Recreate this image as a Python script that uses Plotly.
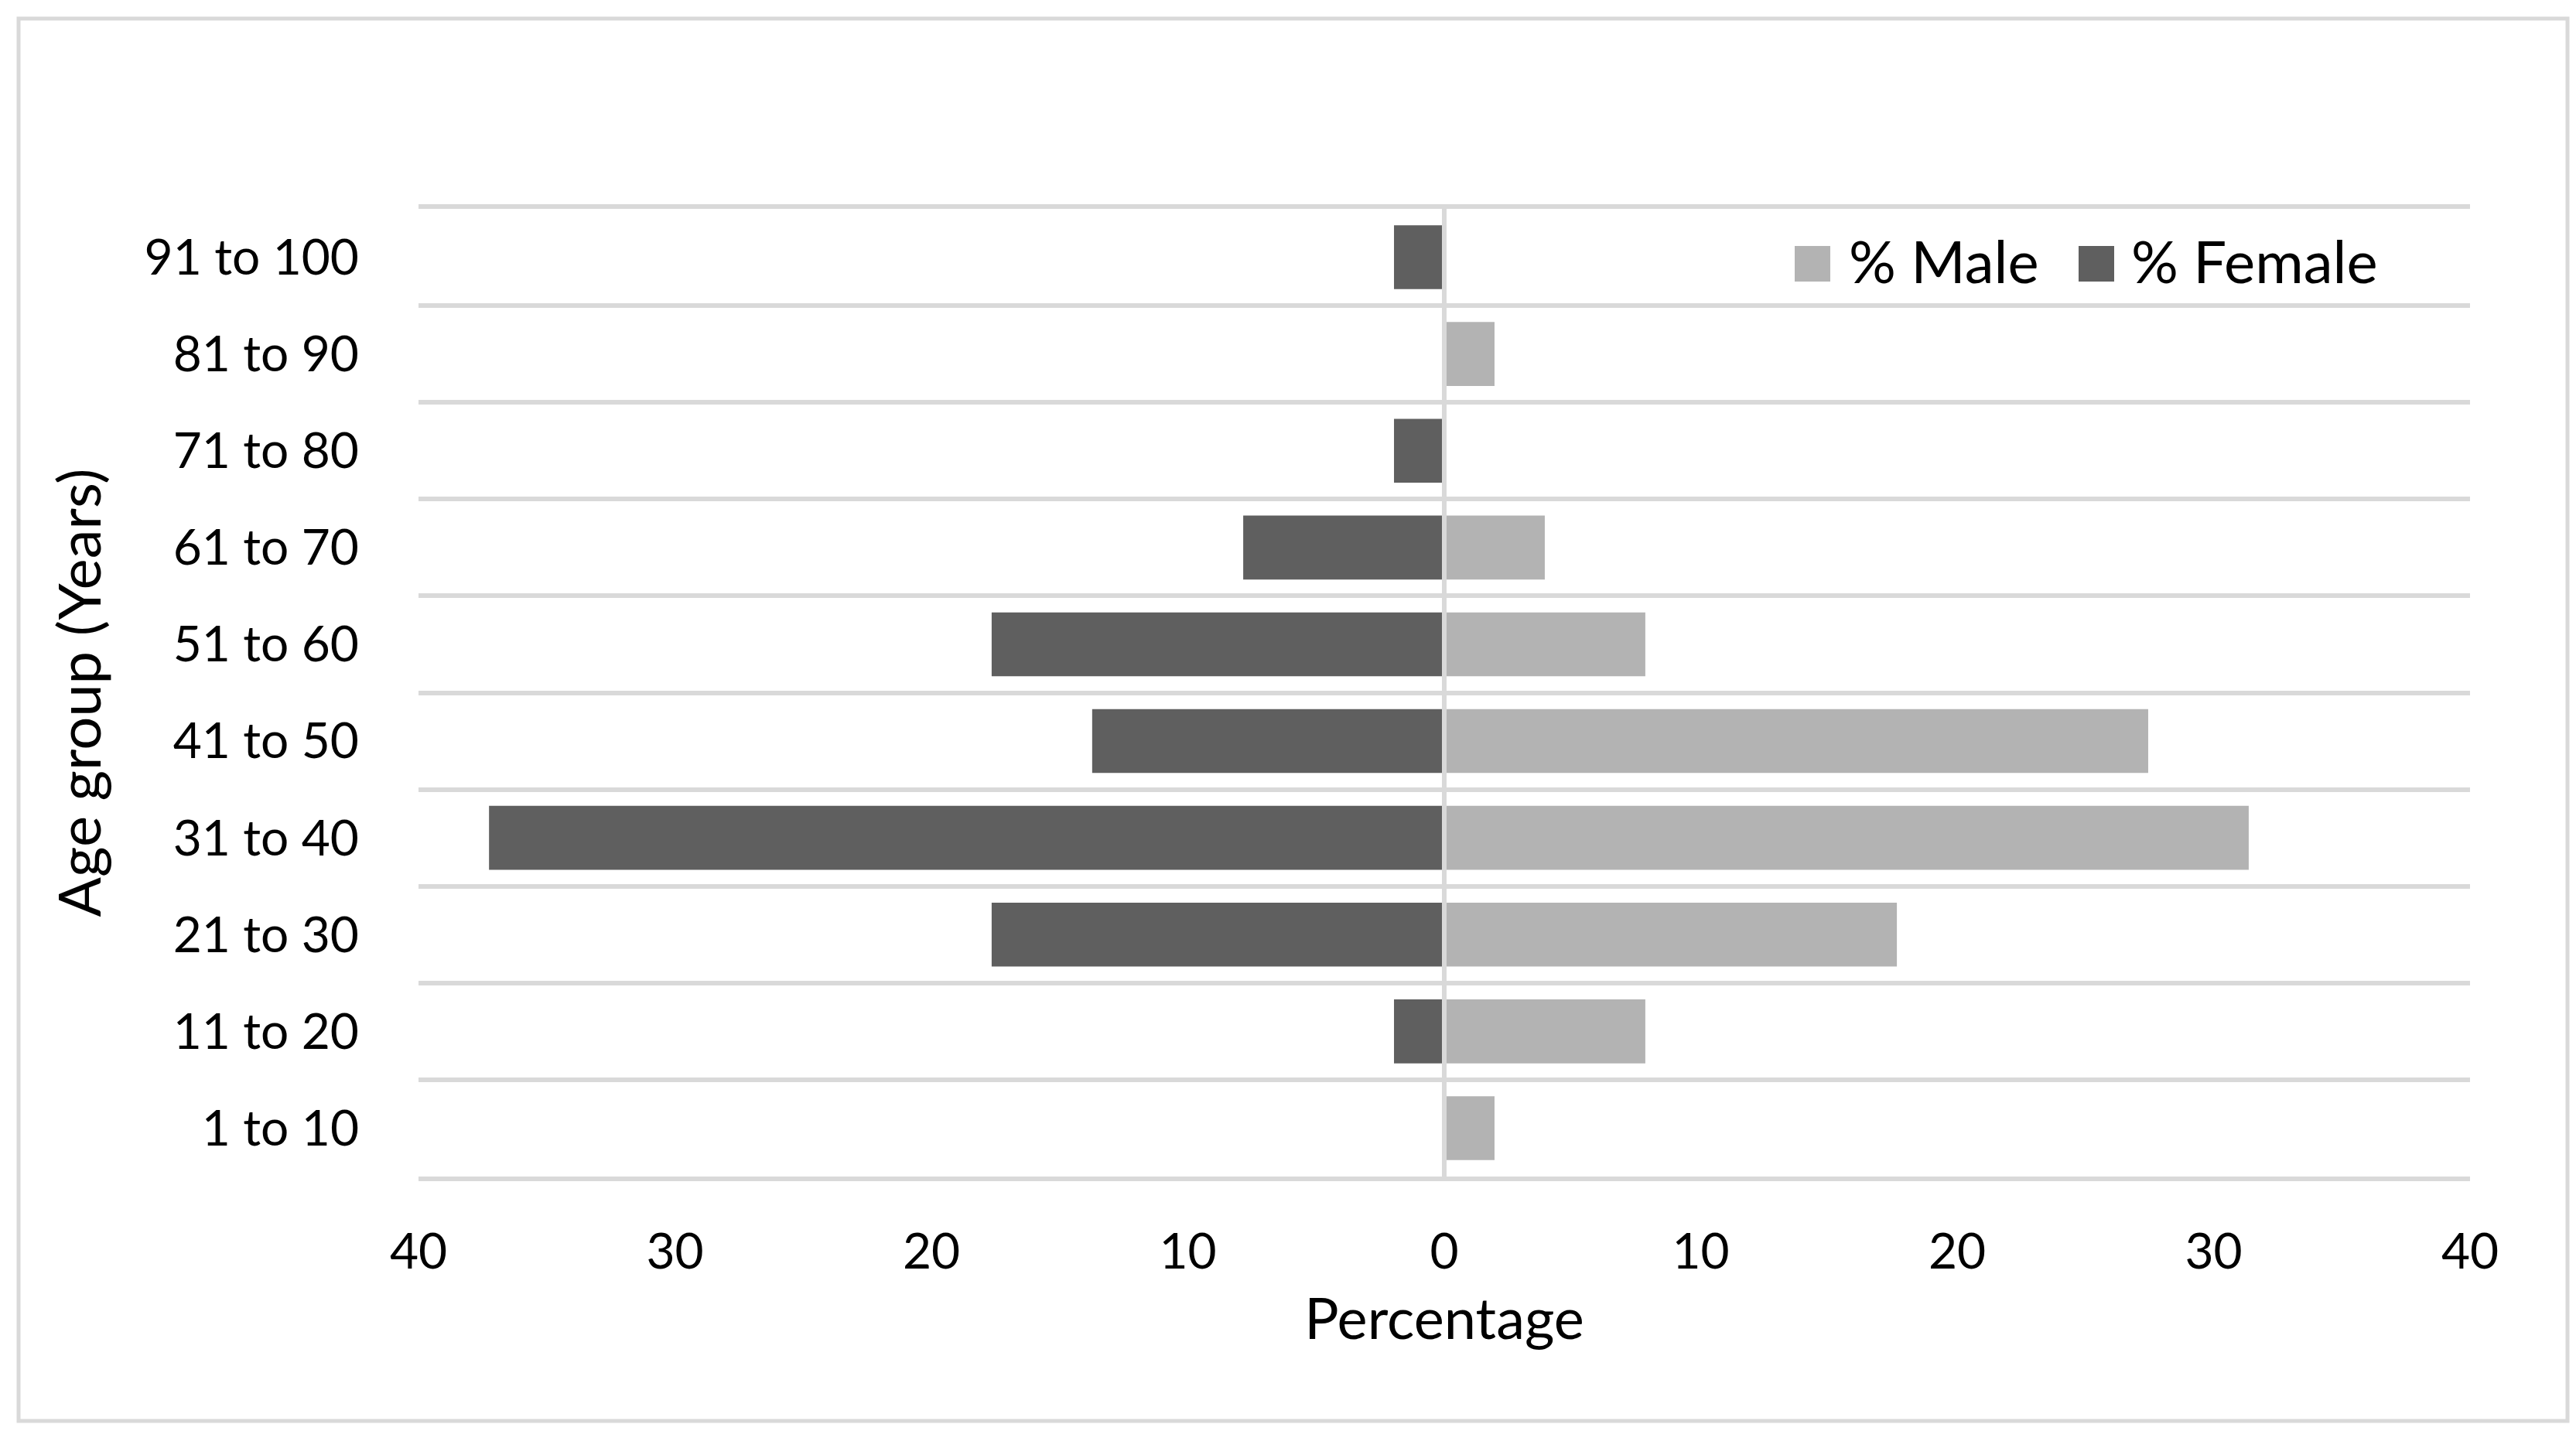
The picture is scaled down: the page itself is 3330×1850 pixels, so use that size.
import plotly.graph_objects as go

age_groups = ["1 to 10", "11 to 20", "21 to 30", "31 to 40", "41 to 50",
              "51 to 60", "61 to 70", "71 to 80", "81 to 90", "91 to 100"]
male_pct = [1.96, 7.84, 17.65, 31.37, 27.45, 7.84, 3.92, 0.0, 1.96, 0.0]
female_pct = [0.0, 1.96, 17.65, 37.25, 13.73, 17.65, 7.84, 1.96, 0.0, 1.96]
x_tick_vals = [-40, -30, -20, -10, 0, 10, 20, 30, 40]
x_tick_text = ["40", "30", "20", "10", "0", "10", "20", "30", "40"]
series_names = ["% Male", "% Female"]
series_colors = ["#b3b3b3", "#5f5f5f"]

FONT = "Lato"
GRID = "#d9d9d9"

W, H = 3330, 1850
ML, MR, MT, MB = 533, 145, 262, 337
PW, PH = W - ML - MR, H - MT - MB


def px_x(p):
    return (p - ML) / PW


def px_y(p):
    return 1 - (p - MT) / PH


fig = go.Figure()
fig.add_trace(go.Bar(
    y=age_groups, x=male_pct, orientation="h", name=series_names[0],
    marker=dict(color=series_colors[0], line=dict(width=0)), showlegend=False,
))
fig.add_trace(go.Bar(
    y=age_groups, x=[-v for v in female_pct], orientation="h", name=series_names[1],
    marker=dict(color=series_colors[1], line=dict(width=0)), showlegend=False,
))

# zero line on top of bars
fig.add_shape(type="line", xref="x", yref="paper", x0=0, x1=0, y0=0, y1=1,
              line=dict(color=GRID, width=6), layer="above")
# outer chart border
fig.add_shape(type="rect", xref="paper", yref="paper",
              x0=px_x(16), x1=px_x(3311), y0=px_y(1829), y1=px_y(16),
              line=dict(color=GRID, width=5), layer="below")

# legend (drawn manually so the swatches can be large)
legend_sq = [(2312, 2358), (2679, 2725)]
legend_txt = [2380, 2745]
for name, col, (a, b), tx in zip(series_names, series_colors, legend_sq, legend_txt):
    fig.add_shape(type="rect", xref="paper", yref="paper",
                  x0=px_x(a), x1=px_x(b), y0=px_y(356), y1=px_y(310),
                  fillcolor=col, line=dict(width=0), layer="above")
    fig.add_annotation(xref="paper", yref="paper", x=px_x(tx), y=px_y(328),
                       xanchor="left", yanchor="middle", showarrow=False,
                       text=name, font=dict(family=FONT, size=76, color="black"))

fig.update_layout(
    width=W, height=H,
    margin=dict(l=ML, r=MR, t=MT, b=MB),
    paper_bgcolor="white", plot_bgcolor="white",
    barmode="relative", bargap=0.34,
    font=dict(family=FONT, size=64, color="black"),
    showlegend=False,
    xaxis=dict(range=[-40, 40], tickvals=x_tick_vals, ticktext=x_tick_text,
               showgrid=False, zeroline=False,
               showline=True, linecolor=GRID, linewidth=6, mirror=True,
               ticks="", ticklabelstandoff=36,
               tickfont=dict(family=FONT, size=64, color="black"),
               title=dict(text="Percentage", standoff=28,
                          font=dict(family=FONT, size=74, color="black"))),
    yaxis=dict(type="category", categoryorder="array", categoryarray=age_groups,
               range=[-0.5, 9.5], tickson="boundaries",
               showgrid=True, gridcolor=GRID, gridwidth=6,
               zeroline=False, showline=False, ticks="",
               ticklabelstandoff=76,
               tickfont=dict(family=FONT, size=64, color="black"),
               title=dict(text="Age group (Years)", standoff=30,
                          font=dict(family=FONT, size=76, color="black"))),
)

fig.write_html("out.html")
